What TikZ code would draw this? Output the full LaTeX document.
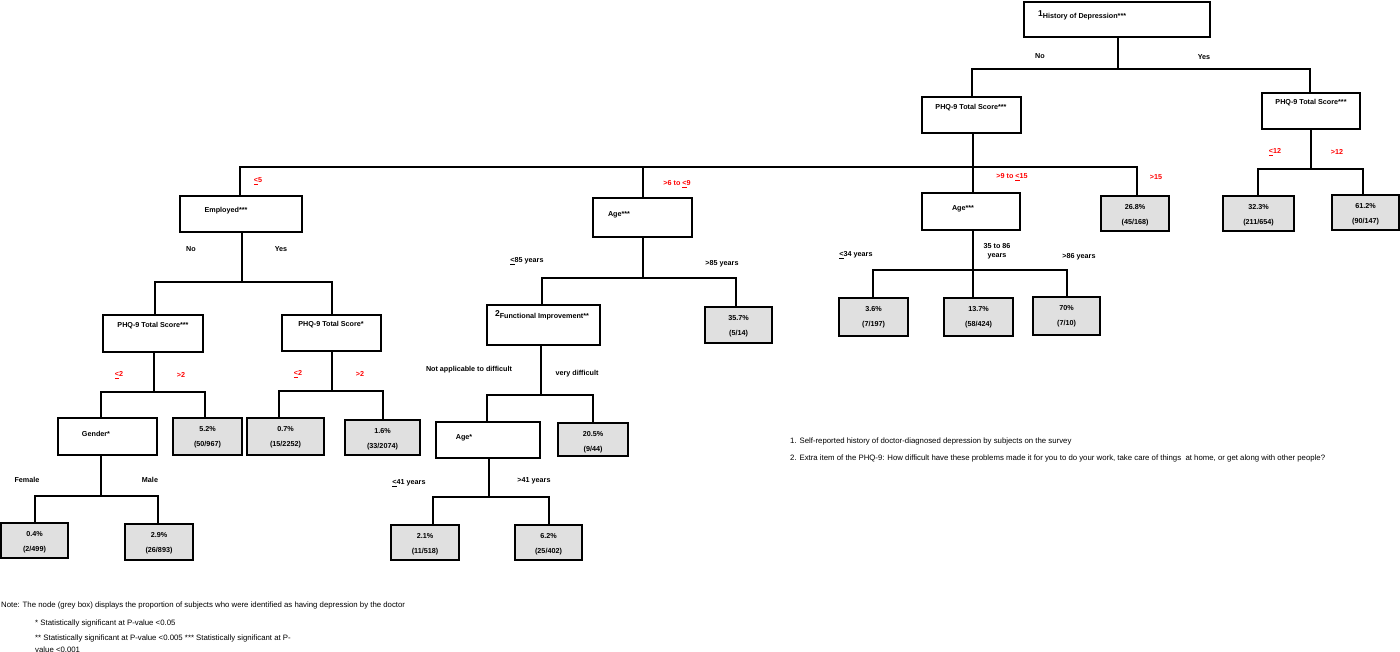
\documentclass[tikz,border=0pt]{standalone}
\usepackage{fontspec}
\setmainfont{Liberation Sans}
\begin{document}
\begin{tikzpicture}[x=1pt,y=-1pt,
  every node/.style={font=\fontsize{7.2}{8.5}\selectfont\bfseries, inner sep=0pt},
  ln/.style={line width=1.4pt},
  red/.style={text=red},
  nrm/.style={font=\fontsize{7.8}{9}\selectfont}]
\fill[white] (0,0) rectangle (1400,652);
\useasboundingbox (0,0) rectangle (1400,652);
\newcommand\bx[6]{\node[draw,line width=1.4pt,fill=#6,minimum width={#4-#2},minimum height={#5-#3}] (#1) at ({(#2+#4)/2},{(#3+#5)/2}) {};}
\newcommand\gv[7]{\bx{#1}{#2}{#3}{#4}{#5}{black!12}\node at ({(#2+#4)/2},{#3+11}) {#6};\node at ({(#2+#4)/2},{#3+27}) {#7};}
\newcommand\sups[1]{\raisebox{2pt}{\fontsize{8.5}{8.5}\selectfont #1}}
% boxes
\bx{root}{1024}{2}{1210}{37}{white}\node[anchor=west] at (1038,15) {\sups{1}History of Depression***};
\bx{pa}{922}{97}{1021}{133}{white}\node at (971,108) {PHQ-9 Total Score***};
\bx{pb}{1262}{93}{1360}{129}{white}\node at (1311,103) {PHQ-9 Total Score***};
\bx{emp}{180}{196}{302}{232}{white}\node at (226,211) {Employed***};
\bx{ag1}{593}{198}{692}{237}{white}\node at (619,215) {Age***};
\bx{ag2}{922}{193}{1020}{230}{white}\node at (963,209) {Age***};
\gv{v268}{1101}{196}{1169}{231}{26.8\%}{(45/168)}
\gv{v323}{1223}{196}{1294}{231}{32.3\%}{(211/654)}
\gv{v612}{1332}{195}{1399}{230}{61.2\%}{(90/147)}
\bx{pc}{103}{315}{203}{352}{white}\node at (153,326) {PHQ-9 Total Score***};
\bx{pd}{282}{315}{381}{351}{white}\node at (331,325) {PHQ-9 Total Score*};
\bx{gen}{58}{418}{157}{455}{white}\node at (96,434) {Gender*};
\gv{v52}{173}{418}{242}{455}{5.2\%}{(50/967)}
\gv{v07}{247}{418}{324}{455}{0.7\%}{(15/2252)}
\gv{v16}{345}{420}{420}{455}{1.6\%}{(33/2074)}
\gv{v04}{1}{523}{68}{558}{0.4\%}{(2/499)}
\gv{v29}{125}{524}{193}{560}{2.9\%}{(26/893)}
\bx{fi}{487}{305}{600}{345}{white}\node at (542,315) {\sups{2}Functional Improvement**};
\gv{v357}{705}{307}{772}{343}{35.7\%}{(5/14)}
\bx{ag3}{436}{422}{540}{458}{white}\node at (464,438) {Age*};
\gv{v205}{558}{423}{628}{456}{20.5\%}{(9/44)}
\gv{v21}{391}{525}{459}{560}{2.1\%}{(11/518)}
\gv{v62}{515}{525}{582}{560}{6.2\%}{(25/402)}
\gv{v36}{839}{298}{908}{336}{3.6\%}{(7/197)}
\gv{v137}{944}{298}{1013}{336}{13.7\%}{(58/424)}
\gv{v70}{1033}{297}{1100}{335}{70\%}{(7/10)}
% connectors
\coordinate (j0) at (1118,69);
\draw[ln] (root.south-|j0) -- (j0); \draw[ln] (pa.north-|972,0) |- (j0) -| (pb.north-|1310,0);
\coordinate (j1) at (973,167);
\draw[ln] (pa.south-|j1) -- (j1);
\draw[ln] (emp.north-|240,0) |- (j1) -| (v268.north-|1137,0);
\draw[ln] (ag1.north-|643,0) -- (643,167);
\draw[ln] (ag2.north-|j1) -- (j1);
\coordinate (j2) at (1311,169);
\draw[ln] (pb.south-|j2) -- (j2); \draw[ln] (v323.north-|1258,0) |- (j2) -| (v612.north-|1363,0);
\coordinate (j3) at (242,282);
\draw[ln] (emp.south-|j3) -- (j3); \draw[ln] (pc.north-|155,0) |- (j3) -| (pd.north-|332,0);
\coordinate (j4) at (154,392);
\draw[ln] (pc.south-|j4) -- (j4); \draw[ln] (gen.north-|101,0) |- (j4) -| (v52.north-|205,0);
\coordinate (j5) at (332,391);
\draw[ln] (pd.south-|j5) -- (j5); \draw[ln] (v07.north-|279,0) |- (j5) -| (v16.north-|383,0);
\coordinate (j6) at (101,496);
\draw[ln] (gen.south-|j6) -- (j6); \draw[ln] (v04.north-|35,0) |- (j6) -| (v29.north-|158,0);
\coordinate (j7) at (643,278);
\draw[ln] (ag1.south-|j7) -- (j7); \draw[ln] (fi.north-|542,0) |- (j7) -| (v357.north-|736,0);
\coordinate (j8) at (541,395);
\draw[ln] (fi.south-|j8) -- (j8); \draw[ln] (ag3.north-|487,0) |- (j8) -| (v205.north-|593,0);
\coordinate (j9) at (489,497);
\draw[ln] (ag3.south-|j9) -- (j9); \draw[ln] (v21.north-|433,0) |- (j9) -| (v62.north-|549,0);
\coordinate (j10) at (973,270);
\draw[ln] (ag2.south-|j10) -- (j10); \draw[ln] (v36.north-|873,0) |- (j10) -| (v70.north-|1067,0);
\draw[ln] (v137.north-|j10) -- (j10);
% labels
\node at (1040,56) {No}; \node at (1204,57) {Yes};
\node[red] at (258,181) {\underline{<}5};
\node[red] at (677,184) {>6 to \underline{<}9};
\node[red] at (1012,177) {>9 to \underline{<}15};
\node[red] at (1156,177) {>15};
\node[red] at (1275,152) {\underline{<}12};
\node[red] at (1337,152) {>12};
\node at (191,249) {No}; \node at (281,249) {Yes};
\node[red] at (119,375) {\underline{<}2}; \node[red] at (181,375) {>2};
\node[red] at (298,374) {\underline{<}2}; \node[red] at (360,374) {>2};
\node at (27,480) {Female}; \node at (150,480) {Male};
\node at (527,261) {\underline{<}85 years}; \node at (722,264) {>85 years};
\node at (469,370) {Not applicable to difficult}; \node at (577,374) {very difficult};
\node at (409,483) {\underline{<}41 years}; \node at (534,481) {>41 years};
\node at (856,255) {\underline{<}34 years};
\node[align=center] at (997,251) {35 to 86\\[1pt]years};
\node at (1079,257) {>86 years};
\node[nrm,anchor=west] at (790,441) {1. Self-reported history of doctor-diagnosed depression by subjects on the survey};
\node[nrm,anchor=west] at (790,458) {2. Extra item of the PHQ-9: How difficult have these problems made it for you to do your work, take care of things\ \ at home, or get along with other people?};
\node[nrm,anchor=west] at (1,605) {Note: The node (grey box) displays the proportion of subjects who were identified as having depression by the doctor};
\node[nrm,anchor=west] at (35,623) {* Statistically significant at P-value <0.05};
\node[nrm,anchor=west] at (35,638) {** Statistically significant at P-value <0.005 *** Statistically significant at P-};
\node[nrm,anchor=west] at (35,650) {value <0.001};
\end{tikzpicture}
\end{document}
